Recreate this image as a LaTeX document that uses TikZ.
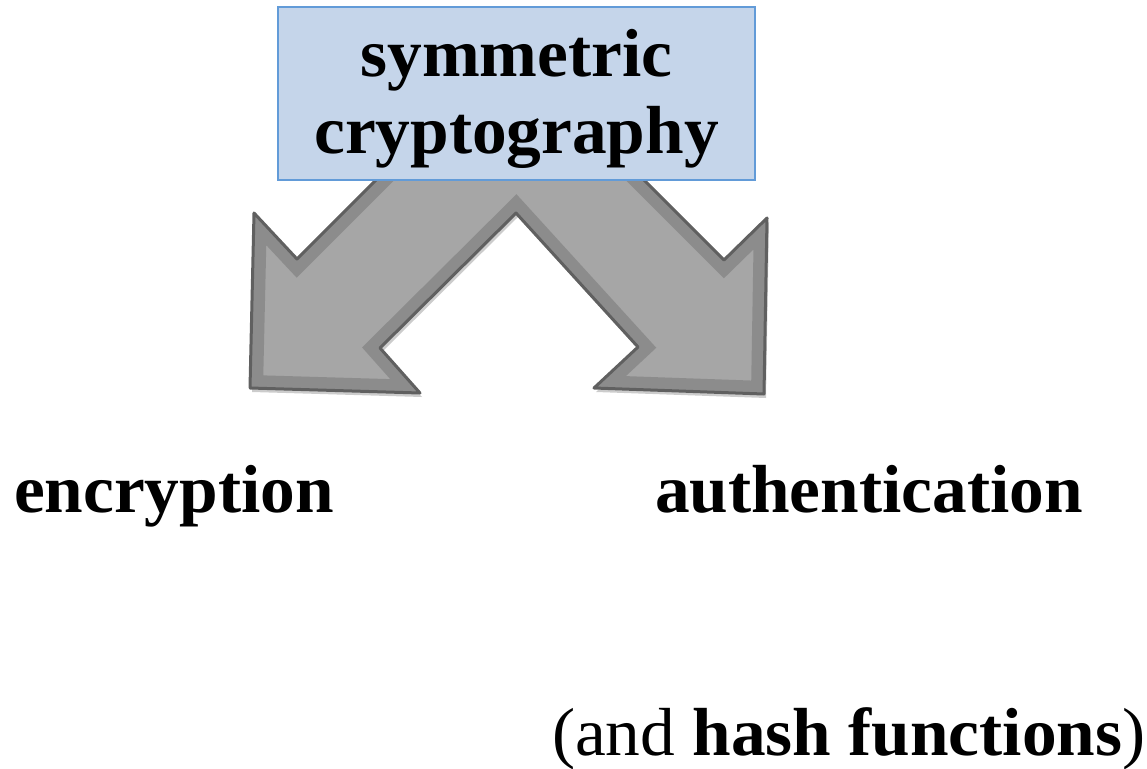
\documentclass[tikz,border=0pt]{standalone}
\usepackage{fontspec}
\setmainfont[FakeStretch=1.02]{Liberation Serif}
\usepackage{tikz}

\definecolor{boxfill}{RGB}{197,213,234}
\definecolor{boxline}{RGB}{98,155,216}
\definecolor{arrowdark}{RGB}{96,96,96}
\definecolor{arrowband}{RGB}{140,140,140}
\definecolor{arrowfill}{RGB}{166,166,166}

% outline of the split arrow (its top is hidden under the box)
\newcommand{\splitarrow}{(250,388) -- (254,213) -- (297,259) -- (510,46) -- (724,260) -- (767,218) -- (764,394) -- (594,388) -- (638,347) -- (516,213) -- (380,348) -- (420,393) -- cycle}

\begin{document}
\begin{tikzpicture}[x=1pt,y=-1pt,
  every node/.style={inner sep=0pt, outer sep=0pt},
  term/.style={font=\fontsize{68}{77}\selectfont\bfseries, anchor=base west}]
\useasboundingbox (0,0) rectangle (1147,768);

% split arrow
\fill[black, opacity=0.2, xshift=2pt, yshift=-4pt] \splitarrow;
\fill[arrowfill] \splitarrow;
\begin{scope}
\clip \splitarrow;
\draw[arrowband, line width=26pt] \splitarrow;
\end{scope}
\draw[arrowdark, line width=3pt, line join=round] \splitarrow;

% title box
\node[draw=boxline, fill=boxfill, line width=2pt, minimum width=477pt, minimum height=173pt] (symbox) at (516.5,93.5) {};
\node[term, anchor=base] (symline) at (516.5,77) {symmetric};
\node[term, anchor=base] (cryline) at (516.5,153) {cryptography};

\node[term] (enc) at (14,512) {encryption};
\node[term] (auth) at (655,512) {authentication};
\node[term, font=\fontsize{68}{77}\selectfont] (hash) at (552,755) {(and \textbf{hash functions})};
\end{tikzpicture}
\end{document}
